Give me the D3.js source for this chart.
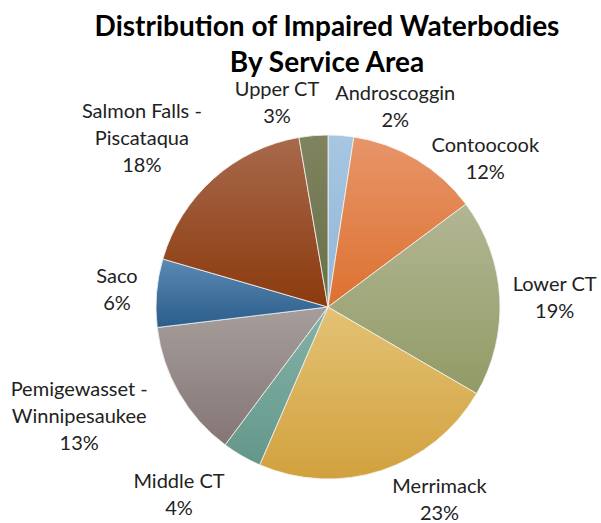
<!DOCTYPE html>
<html>
<head>
<meta charset="utf-8">
<script src="https://cdn.jsdelivr.net/npm/d3@7"></script>
<style>
  body { margin: 0; background: #fff; }
  text { font-family: Lato, "Open Sans", sans-serif; fill: #222; }
</style>
</head>
<body>
<div id="chart"></div>
<script>
//service areas, clockwise from 12 o'clock//
var areas = ["Androscoggin", "Contoocook", "Lower CT", "Merrimack", "Middle CT",
             "Pemigewasset - Winnipesaukee", "Saco", "Salmon Falls - Piscataqua", "Upper CT"];
//share of impaired waterbodies (percent)//
var shares = [2.4, 12.4, 18.6, 23.1, 3.7, 12.9, 6.4, 17.8, 2.7];

//slice fills, light top -> base bottom
var topColors  = ["#a6c6e1", "#e7956a", "#b2b693", "#e3c274", "#84b3a7", "#a69e9c", "#5a89b3", "#a8694c", "#80835f"];
var baseColors = ["#93b7d7", "#dd7130", "#929b66", "#d2a13e", "#64978a", "#847675", "#2b5d8b", "#8b3a0d", "#677047"];

var title = ["Distribution of Impaired Waterbodies", "By Service Area"];

var width = 601, height = 523;
var cx = 328, cy = 307, radius = 172;
var lineH = 27;

var svg = d3.select("#chart").append("svg")
    .attr("width", width)
    .attr("height", height);

//gradients
var defs = svg.append("defs");
areas.forEach(function(a, i) {
    var g = defs.append("linearGradient")
        .attr("id", "grad" + i)
        .attr("x1", 0).attr("y1", 0).attr("x2", 0).attr("y2", 1);
    g.append("stop").attr("offset", "0%").attr("stop-color", topColors[i]);
    g.append("stop").attr("offset", "100%").attr("stop-color", baseColors[i]);
});

//title
svg.append("g").selectAll("text")
    .data(title)
    .enter().append("text")
    .attr("x", cx - 1)
    .attr("y", function(d, i) { return 36 + i * 36; })
    .attr("text-anchor", "middle")
    .style("font-weight", "bold")
    .style("font-size", "28px")
    .style("fill", "#000")
    .text(function(d) { return d; });

var pie = d3.pie()
    .sort(null)
    .value(function(d) { return d; });

var arc = d3.arc()
    .outerRadius(radius)
    .innerRadius(0);

var arcs = pie(shares);

var g = svg.append("g")
    .attr("transform", "translate(" + cx + "," + cy + ")");

g.selectAll(".slice")
    .data(arcs)
    .enter().append("path")
    .attr("class", "slice")
    .attr("d", arc)
    .style("fill", function(d, i) { return "url(#grad" + i + ")"; })
    .style("stroke", "#f4f4f4")
    .style("stroke-width", 0.8);

//labels
var fmt = d3.format(".0%");
function labelLines(i) {
    var name = areas[i];
    var parts = name.split(" - ");
    var lines = parts.length > 1 ? [parts[0] + " -", parts[1]] : [name];
    lines.push(fmt(shares[i] / 100));
    return lines;
}

//small manual shifts, like Excel best fit
var nudge = [[49,9],[36,32],[3,3],[40,-5],[-35,8],[-32,-1],[-9,1],[-25,-2],[-32,5]];
var gap = 10;

var lab = g.selectAll(".lab")
    .data(arcs)
    .enter().append("text")
    .attr("class", "lab")
    .attr("text-anchor", "middle")
    .style("font-size", "20px");

lab.each(function(d, i) {
    var t = d3.select(this);
    var lines = labelLines(i);
    lines.forEach(function(l) {
        t.append("tspan").attr("x", 0).attr("dy", 0).text(l);
    });
    var w = 0;
    t.selectAll("tspan").each(function() { w = Math.max(w, this.getComputedTextLength()); });
    var h = lines.length * lineH;
    var a = (d.startAngle + d.endAngle) / 2;
    var px = Math.sin(a) * (radius + gap) + Math.sin(a) * w / 2 + nudge[i][0];
    var py = -Math.cos(a) * (radius + gap) - Math.cos(a) * h / 2 + nudge[i][1];
    var y0 = py - h / 2 + lineH * 0.72;
    t.selectAll("tspan")
        .attr("x", px)
        .attr("y", function(l, k) { return y0 + k * lineH; });
});
</script>
</body>
</html>
